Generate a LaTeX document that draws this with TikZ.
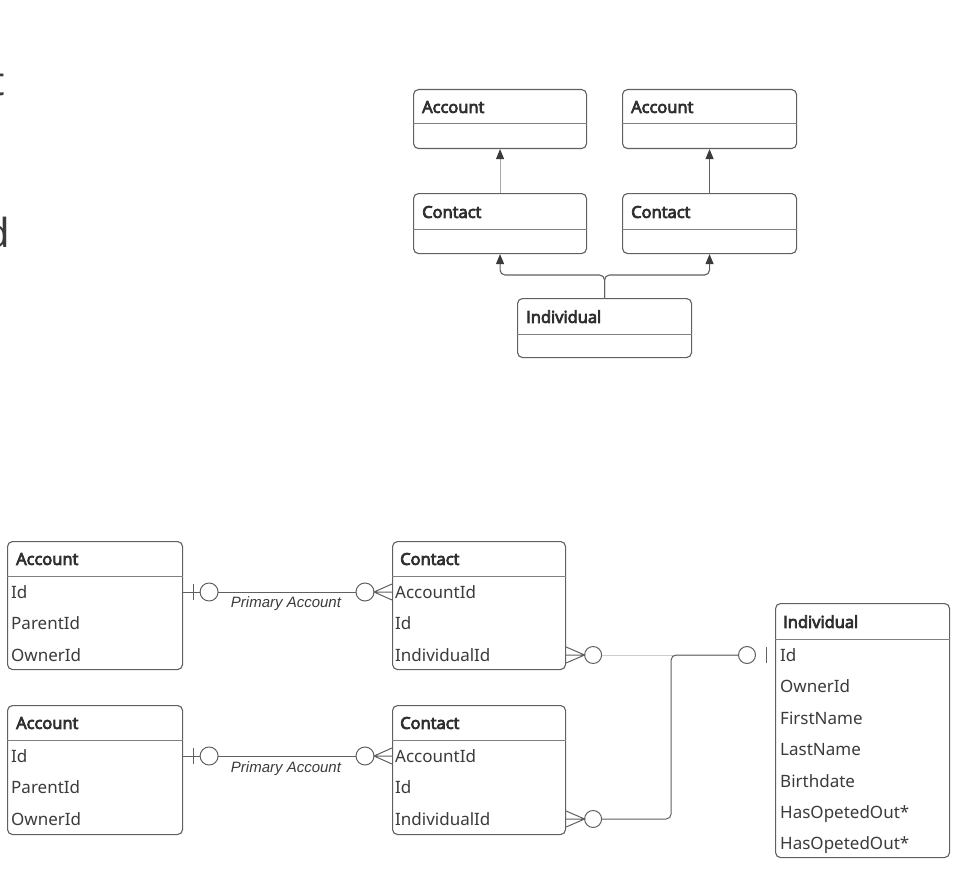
\documentclass[tikz,border=0pt]{standalone}
\usepackage{fontspec}
\setmainfont{Noto Sans}
\newfontfamily\titlefont{Open Sans}[AutoFakeBold=4.5]
\newfontfamily\labelfont{Liberation Sans}
\usetikzlibrary{arrows.meta,calc}
\definecolor{ink}{HTML}{3B3B3B}
\definecolor{inkdark}{HTML}{2F2F2F}
\definecolor{edge}{HTML}{606060}
\definecolor{rulec}{HTML}{808080}
\definecolor{faint}{HTML}{CDCDCD}
\definecolor{shaftlight}{HTML}{A8A8A8}
\definecolor{shaftdark}{HTML}{606060}
\begin{document}
\begin{tikzpicture}[x=1pt,y=-1pt,
  box/.style={draw=edge, line width=1.1pt, rounded corners=5pt, inner sep=0pt, anchor=north west, fill=white},
  title/.style={font=\titlefont\fontsize{16.5}{19}\selectfont\bfseries, text=inkdark, inner sep=0pt, anchor=west, text height=11.8pt, text depth=0pt},
  attr/.style={font=\fontsize{17}{20}\selectfont, text=ink, inner sep=0pt, anchor=west, text height=12.1pt, text depth=0pt},
  divider/.style={draw=rulec, line width=1pt},
  rel/.style={draw=edge, line width=1pt},
  lbl/.style={font=\labelfont\itshape\fontsize{15}{17}\selectfont, text=ink, inner sep=0pt, anchor=base},
  frag/.style={font=\fontsize{40}{48}\selectfont, text=ink, inner sep=0pt, anchor=base east},
  headtip/.style={-{Triangle[length=10pt,width=8pt,fill=ink,color=ink]}}
]
\useasboundingbox (0,0) rectangle (972,872);

% cropped large text at the left edge
\node[frag] (frag1) at (5,96) {t};
\node[frag] (frag2) at (10,247) {d};

% ---------------- top diagram ----------------
\node[box, minimum width=173pt, minimum height=59pt] (tacc1) at (413,89) {};
\node[box, minimum width=174pt, minimum height=59pt] (tacc2) at (622,89) {};
\node[box, minimum width=173pt, minimum height=60pt] (tcon1) at (413,193) {};
\node[box, minimum width=174pt, minimum height=60pt] (tcon2) at (622,193) {};
\node[box, minimum width=174pt, minimum height=59pt] (tind) at (517,298) {};

\draw[divider] ([yshift=-35pt]tacc1.north west) -- ([yshift=-35pt]tacc1.north east);
\draw[divider] ([yshift=-35pt]tacc2.north west) -- ([yshift=-35pt]tacc2.north east);
\draw[divider] ([yshift=-36pt]tcon1.north west) -- ([yshift=-36pt]tcon1.north east);
\draw[divider] ([yshift=-36pt]tcon2.north west) -- ([yshift=-36pt]tcon2.north east);
\draw[divider] ([yshift=-36pt]tind.north west) -- ([yshift=-36pt]tind.north east);

\node[title] (tacc1t) at ([xshift=9pt,yshift=-18pt]tacc1.north west) {Account};
\node[title] (tacc2t) at ([xshift=9pt,yshift=-18pt]tacc2.north west) {Account};
\node[title] (tcon1t) at ([xshift=9pt,yshift=-19pt]tcon1.north west) {Contact};
\node[title] (tcon2t) at ([xshift=9pt,yshift=-19pt]tcon2.north west) {Contact};
\node[title] (tindt) at ([xshift=9pt,yshift=-19pt]tind.north west) {Individual};

\draw[line width=1.1pt, shaftlight, headtip] (tcon1.north) -- (tacc1.south);
\draw[line width=1.1pt, shaftdark, headtip] (tcon2.north) -- (tacc2.south);
\draw[line width=1.1pt, edge, rounded corners=5pt, headtip] (tind.north) -- ++(0,-23) -| (tcon1.south);
\draw[line width=1.1pt, edge, rounded corners=5pt, headtip] (tind.north) -- ++(0,-23) -| (tcon2.south);

% ---------------- bottom diagram ----------------
\node[box, minimum width=175pt, minimum height=128pt] (acc1) at (7,541) {};
\node[box, minimum width=175pt, minimum height=129pt] (acc2) at (7,705) {};
\node[box, minimum width=173pt, minimum height=128pt] (con1) at (392,541) {};
\node[box, minimum width=173pt, minimum height=129pt] (con2) at (392,705) {};
\node[box, minimum width=174pt, minimum height=254pt] (ind) at (775,603) {};

\draw[divider] ([yshift=-35pt]acc1.north west) -- ([yshift=-35pt]acc1.north east);
\draw[divider] ([yshift=-35pt]acc2.north west) -- ([yshift=-35pt]acc2.north east);
\draw[divider] ([yshift=-35pt]con1.north west) -- ([yshift=-35pt]con1.north east);
\draw[divider] ([yshift=-35pt]con2.north west) -- ([yshift=-35pt]con2.north east);
\draw[divider] ([yshift=-36pt]ind.north west) -- ([yshift=-36pt]ind.north east);

\node[title] (acc1t) at (16,559) {Account};
\node[title] (acc2t) at (16,723) {Account};
\node[title] (con1t) at (400,559) {Contact};
\node[title] (con2t) at (400,723) {Contact};
\node[title] (indt) at (783,622) {Individual};

\node[attr] (acc1id) at (11,592) {Id};
\node[attr] (acc1par) at (11,623.5) {ParentId};
\node[attr] (acc1own) at (11,655) {OwnerId};
\node[attr] (acc2id) at (11,756) {Id};
\node[attr] (acc2par) at (11,787.5) {ParentId};
\node[attr] (acc2own) at (11,819) {OwnerId};

\node[attr] (con1acc) at (395,592) {AccountId};
\node[attr] (con1id) at (395,623.5) {Id};
\node[attr] (con1ind) at (395,655) {IndividualId};
\node[attr] (con2acc) at (395,756) {AccountId};
\node[attr] (con2id) at (395,787.5) {Id};
\node[attr] (con2ind) at (395,819) {IndividualId};

\node[attr] (indid) at (780,655) {Id};
\node[attr] (indown) at (780,686.5) {OwnerId};
\node[attr] (indfn) at (780,718) {FirstName};
\node[attr] (indln) at (780,749.5) {LastName};
\node[attr] (indbd) at (780,781) {Birthdate};
\node[attr] (indho1) at (780,812) {HasOpetedOut*};
\node[attr] (indho2) at (780,843) {HasOpetedOut*};

% Account 1 -- Contact 1
\coordinate (r1a) at (acc1.east |- acc1id);
\coordinate (r1b) at (con1.west |- con1acc);
\draw[rel] (r1a) -- ([xshift=17pt]r1a);
\draw[rel] ([xshift=10pt,yshift=8pt]r1a) -- ([xshift=10pt,yshift=-8pt]r1a);
\draw[rel] ([xshift=26pt]r1a) circle[radius=9pt];
\draw[rel] ([xshift=35pt]r1a) -- ([xshift=-36pt]r1b);
\draw[rel] ([xshift=-27pt]r1b) circle[radius=9pt];
\draw[rel] ([yshift=8pt]r1b) -- ([xshift=-18pt]r1b) -- ([yshift=-8pt]r1b) ([xshift=-18pt]r1b) -- (r1b);
\node[lbl] (r1l) at (286,607) {Primary Account};

% Account 2 -- Contact 2
\coordinate (r2a) at (acc2.east |- acc2id);
\coordinate (r2b) at (con2.west |- con2acc);
\draw[rel] (r2a) -- ([xshift=17pt]r2a);
\draw[rel] ([xshift=10pt,yshift=8pt]r2a) -- ([xshift=10pt,yshift=-8pt]r2a);
\draw[rel] ([xshift=26pt]r2a) circle[radius=9pt];
\draw[rel] ([xshift=35pt]r2a) -- ([xshift=-36pt]r2b);
\draw[rel] ([xshift=-27pt]r2b) circle[radius=9pt];
\draw[rel] ([yshift=8pt]r2b) -- ([xshift=-18pt]r2b) -- ([yshift=-8pt]r2b) ([xshift=-18pt]r2b) -- (r2b);
\node[lbl] (r2l) at (286,772) {Primary Account};

% Contact 1 -- Individual
\coordinate (r3a) at (con1.east |- con1ind);
\coordinate (r3b) at (ind.west |- indid);
\draw[rel] ([yshift=8pt]r3a) -- ([xshift=18.5pt]r3a) -- ([yshift=-8pt]r3a) (r3a) -- ([xshift=18.5pt]r3a);
\draw[rel] ([xshift=27pt]r3a) circle[radius=8.5pt];
\draw[faint, line width=0.9pt] ([xshift=35.5pt]r3a) -- ([xshift=-36.5pt]r3b);
\draw[rel] ([xshift=-28pt]r3b) circle[radius=8.5pt];
\draw[rel] ([xshift=-9pt,yshift=8pt]r3b) -- ([xshift=-9pt,yshift=-8pt]r3b);

% Contact 2 -- Individual
\coordinate (r4a) at (con2.east |- con2ind);
\coordinate (j4) at ([xshift=105pt]r4a);
\draw[rel] ([yshift=8pt]r4a) -- ([xshift=18.5pt]r4a) -- ([yshift=-8pt]r4a) (r4a) -- ([xshift=18.5pt]r4a);
\draw[rel] ([xshift=27pt]r4a) circle[radius=8.5pt];
\draw[rel, rounded corners=5pt] ([xshift=35.5pt]r4a) -- (j4) |- ([xshift=-36.5pt]r3b);
\end{tikzpicture}
\end{document}
